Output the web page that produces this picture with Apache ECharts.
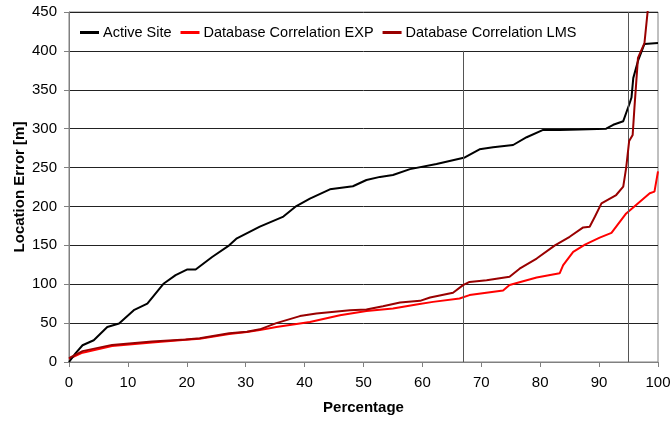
<!DOCTYPE html>
<html>
<head>
<meta charset="utf-8">
<script src="https://cdn.jsdelivr.net/npm/echarts@6/dist/echarts.min.js"></script>
<style>
  html, body { margin: 0; padding: 0; background: #fff; }
  #chart { width: 672px; height: 421px; }
</style>
</head>
<body>
<div id="chart"></div>
<script>
// values (x = percentage, y = location error in m)
var activeX = [0, 1.1, 2.3, 4.2, 6.5, 8.5, 11, 13.3, 16.1, 18.1, 20.1, 21.5, 24.3, 27.2, 28.5, 32.4, 36.4, 38.6, 40.9, 44.3, 48.2, 50.5, 52.8, 55, 57.9, 62.4, 67.2, 69.7, 72, 75.4, 77.7, 80.5, 83.3, 86.7, 91.2, 92.4, 94.1, 95.2, 95.5, 95.8, 96.6, 97.7, 100];
var activeY = [0, 11, 21.5, 28, 45, 49.5, 66.6, 75, 101, 111.7, 119, 119, 135, 150, 159, 174, 187, 200.5, 210, 222, 226, 234, 238, 240.5, 248, 254.6, 263, 273.5, 276, 279, 289, 298.4, 298.4, 299, 300, 305, 309.6, 333, 340, 365, 387, 409, 410];

var expX = [0, 2.3, 7.3, 14.1, 19.8, 22.2, 27.2, 30.2, 32.4, 35.2, 40.9, 46, 50.5, 55, 59, 61.8, 66.3, 68, 73.7, 74.8, 79.4, 83.3, 83.9, 85.6, 87.6, 90.1, 92.1, 94.6, 98.6, 99.4, 100];
var expY = [4, 12, 20.5, 25, 28.5, 30, 36, 38.6, 41, 45, 51.5, 60, 65.7, 68.8, 74, 77.3, 81.6, 86, 92, 99, 108.7, 114, 124.5, 141.7, 151, 160, 166, 191, 217, 219, 245];

var lmsX = [0, 2.3, 7.3, 14.1, 19.8, 22.2, 27.2, 30.2, 32.4, 35.2, 39.2, 42, 47.7, 50.5, 53.3, 56.2, 59.6, 61.3, 65.2, 66.9, 68, 70.9, 74.8, 76.5, 79.4, 82.5, 85, 87.3, 88.4, 89.3, 90.4, 92.9, 94.1, 94.6, 95.1, 95.7, 96, 96.6, 97.7, 98.5];
var lmsY = [5, 14, 22, 26.5, 29, 30.5, 37, 39, 42, 50, 59, 62.3, 66.6, 67.5, 71.7, 76.5, 78.6, 83, 89, 98.8, 103, 105, 109.5, 120, 133, 150, 161, 173, 174, 187, 204, 214.7, 225.4, 250, 284, 292, 327, 391, 410, 470];

var xTicks = [0, 10, 20, 30, 40, 50, 60, 70, 80, 90, 100];
var markX = [67, 95];

function pairs(xs, ys) {
  var out = [];
  for (var i = 0; i < xs.length; i++) out.push([xs[i], ys[i]]);
  return out;
}

var chart = echarts.init(document.getElementById('chart'));
var fontFamily = '"Liberation Sans", Arial, sans-serif';

chart.setOption({
  animation: false,
  textStyle: { fontFamily: fontFamily },
  grid: {
    left: 69, right: 14, top: 12, bottom: 59,
    outerBoundsMode: 'none',
    show: true, borderColor: '#808080', borderWidth: 1
  },
  legend: {
    left: 75, top: 20,
    itemWidth: 19, itemHeight: 3, itemGap: 9,
    icon: 'rect',
    textStyle: { fontSize: 14.5, color: '#000', fontFamily: fontFamily, padding: [0, 0, 0, -1] },
    data: ['Active Site', 'Database Correlation EXP', 'Database Correlation LMS']
  },
  xAxis: {
    type: 'value', min: xTicks[0], max: xTicks[xTicks.length - 1], interval: 10,
    name: 'Percentage', nameLocation: 'middle', nameGap: 38, nameMoveOverlap: false,
    nameTextStyle: { fontSize: 15, fontWeight: 'bold', color: '#000' },
    axisLine: { lineStyle: { color: '#808080', width: 1 } },
    axisTick: { show: true, length: 5, lineStyle: { color: '#808080' } },
    axisLabel: { fontSize: 15, color: '#000', margin: 13 },
    splitLine: { show: false }
  },
  yAxis: {
    type: 'value', min: 0, max: 450, interval: 50,
    name: 'Location Error [m]', nameLocation: 'middle', nameGap: 42, nameMoveOverlap: false,
    nameTextStyle: { fontSize: 15, fontWeight: 'bold', color: '#000' },
    axisLine: { show: true, lineStyle: { color: '#808080', width: 1 } },
    axisTick: { show: true, length: 5, lineStyle: { color: '#808080' } },
    axisLabel: { fontSize: 15, color: '#000', margin: 12 },
    splitLine: { show: true, lineStyle: { color: '#222', width: 1 } }
  },
  series: [
    {
      name: 'Active Site', type: 'line', data: pairs(activeX, activeY),
      showSymbol: false, symbol: 'none', color: '#000000',
      lineStyle: { width: 2, color: '#000000' }, z: 4,
      markLine: {
        silent: true, symbol: 'none', label: { show: false },
        lineStyle: { color: '#555', width: 1, type: 'solid' },
        data: [
          [{ coord: [markX[0], 0] }, { coord: [markX[0], 400] }],
          [{ coord: [markX[1], 0] }, { coord: [markX[1], 450] }]
        ]
      }
    },
    {
      name: 'Database Correlation EXP', type: 'line', data: pairs(expX, expY),
      showSymbol: false, symbol: 'none', color: '#ff0000',
      lineStyle: { width: 2, color: '#ff0000' }, z: 3
    },
    {
      name: 'Database Correlation LMS', type: 'line', data: pairs(lmsX, lmsY),
      showSymbol: false, symbol: 'none', color: '#990000',
      lineStyle: { width: 2, color: '#990000' }, z: 5
    }
  ]
});
</script>
</body>
</html>
